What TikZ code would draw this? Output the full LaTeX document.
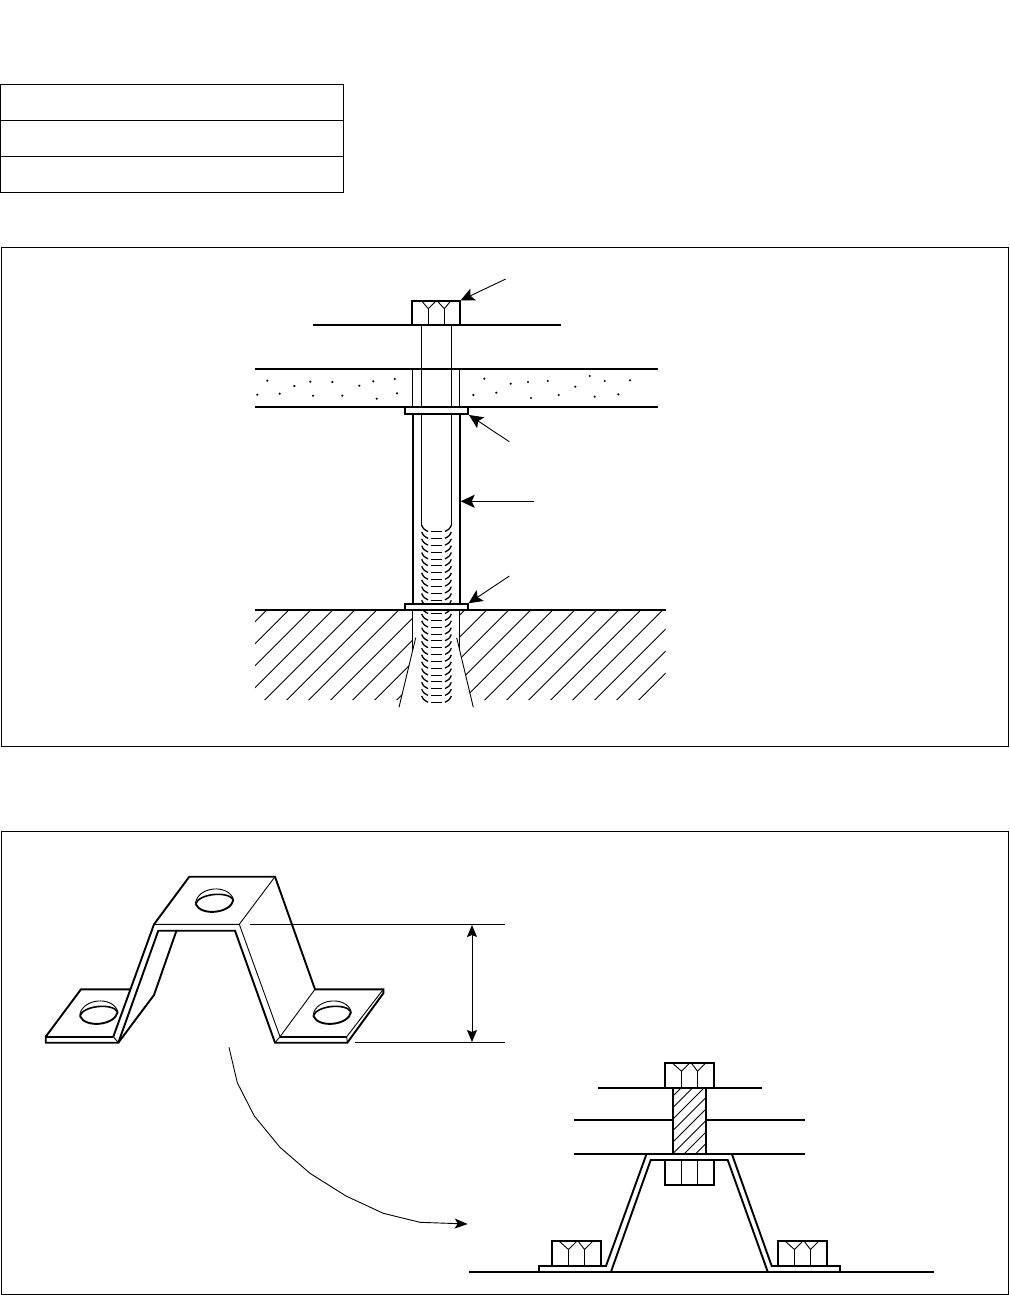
\documentclass[tikz,border=0pt]{standalone}
\usepackage{amsmath}
\usetikzlibrary{arrows.meta}
\tikzset{
	thinline/.style={line width=0.9pt},
	thickline/.style={line width=1.9pt,line join=miter},
	hatchline/.style={line width=0.9pt},
	threadline/.style={line width=1.3pt},
	threaddash/.style={line width=1pt},
	bigleader/.style={line width=0.9pt,-{Stealth[length=14pt,width=13pt,inset=3pt]}},
	smallleader/.style={line width=0.9pt,-{Stealth[length=13pt,width=10pt,inset=3pt]}},
	dimline/.style={line width=0.9pt,{Stealth[length=12pt,width=10pt,inset=2pt]}-{Stealth[length=12pt,width=10pt,inset=2pt]}},
	dotmark/.style={fill=black}
}
\begin{document}
\begin{tikzpicture}[x=1pt,y=-1pt]
		\useasboundingbox (0,0) rectangle (1009,1295);
		% empty table
		\draw[thinline] (0.6,84.4) rectangle (343,120.3);
		\draw[thinline] (0.6,120.3) rectangle (343,156.3);
		\draw[thinline] (0.6,156.3) rectangle (343,192.3);
		% frames
		\draw[thinline] (1,247.5) rectangle (1008,746);
		\draw[thinline] (1,831.5) rectangle (1008,1294);
		% upper picture: plate and panel
		\draw[thickline] (313.3,325) -- (560.7,325);
		\draw[thickline] (255,368.7) -- (657.7,368.7);
		\draw[thickline] (255,406.9) -- (657.7,406.9);
		\draw[thinline] (412.3,369) -- (412.3,407);
		\draw[thinline] (459.7,369) -- (459.7,407);
		\foreach \dotx/\doty in {267.3/380.7,294.3/386,310.3/381.7,332.3/382,359.3/385.7,373.3/381.3,394.7/379,
			257.3/394.7,279.7/393.7,313/395.7,342.3/395.7,376.7/398.7,397/393.3,
			484.3/378.7,510.7/383.7,528/382,547.7/381,575.3/386.7,589.7/376,604.7/381,630/380.3,
			473.3/395,496.3/392.7,531/398,558.7/395,594.7/396.7,618.3/394.3}
			\fill[dotmark] (\dotx,\doty) circle (1.2);
		% bolt head
		\draw[thickline] (412,325) -- (412,301) -- (460,301) -- (460,325);
		\draw[thinline] (428.3,325) -- (428.3,308.7);
		\draw[thinline] (444.3,325) -- (444.3,308.7);
		\draw[thinline] (421.7,301) -- (428.3,308.7) -- (436,301);
		\draw[thinline] (437.3,301) -- (444.3,308.7) -- (450.7,301);
		% shaft and thread
		\draw[thinline] (421.7,325) -- (421.7,525.7);
		\draw[thinline] (451.3,325) -- (451.3,525.7);
		\foreach \n in {0,...,25} {
			\draw[threadline] (421.7,525.2+6.83*\n) .. controls (423.5,529+6.83*\n) .. (428,531.5+6.83*\n);
			\draw[threadline] (451.3,525.2+6.83*\n) .. controls (449.5,529+6.83*\n) .. (445,531.5+6.83*\n);
			\draw[threaddash] (431,531.7+6.83*\n) -- (442.3,531.7+6.83*\n);
		}
		% spacer and washers
		\draw[thickline] (413,414) -- (413,604);
		\draw[thickline] (460,414) -- (460,604);
		\draw[thickline,fill=white] (405,407) rectangle (468,414);
		\draw[thickline,fill=white] (405,603.7) rectangle (468,609.7);
		% ground
		\draw[thickline] (255,609.7) -- (665.7,609.7);
		\begin{scope}
			\clip (255,610) -- (412.3,610) -- (412.3,651.6) -- (400.8,700) -- (255,700) -- cycle;
			\foreach \k in {0,...,21}
				\draw[hatchline] (876.7+22*\k-200,200) -- (876.7+22*\k-800,800);
		\end{scope}
		\begin{scope}
			\clip (459.7,610) -- (665.7,610) -- (665.7,700) -- (471.6,700) -- (459.7,650) -- cycle;
			\foreach \k in {0,...,21}
				\draw[hatchline] (876.7+22*\k-200,200) -- (876.7+22*\k-800,800);
		\end{scope}
		\draw[thinline] (412.3,610) -- (412.3,651.6);
		\draw[thinline] (459.7,610) -- (459.7,650);
		% leaders
		\coordinate (leadhead) at (505.7,279);
		\coordinate (headtip) at (460.5,300.5);
		\coordinate (leadwasher) at (509.3,441.7);
		\coordinate (washertip) at (469,415);
		\coordinate (leadspacer) at (534,501.3);
		\coordinate (spacertip) at (460.7,501.3);
		\coordinate (leadbase) at (509.3,576);
		\coordinate (basetip) at (468.5,603.3);
		\draw[bigleader] (leadhead) -- (headtip);
		\draw[bigleader] (leadwasher) -- (washertip);
		\draw[bigleader] (leadspacer) -- (spacertip);
		\draw[bigleader] (leadbase) -- (basetip);
		\coordinate (holeleft) at (415.7,637.7);
		\coordinate (holeleftend) at (399,707.3);
		\coordinate (holeright) at (456.7,637.7);
		\coordinate (holerightend) at (473.3,707.3);
		\draw[thinline] (holeleft) -- (holeleftend);
		\draw[thinline] (holeright) -- (holerightend);
		% lower picture: bracket
		\draw[thickline] (113.3,1036.7) -- (154,924.3) -- (189.3,876.7) -- (275,876.7) -- (315,989.3) -- (383.3,989.3) -- (383.3,993.3) -- (347.3,1042.7) -- (275,1042.7) -- (235,930.7) -- (158.3,930.7) -- (118.3,1042.7) -- (45.7,1042.7) -- (45.7,1036.7) -- (81,989.3) -- (130,989.3);
		\draw[thickline] (45.7,1036.7) -- (113.3,1036.7);
		\draw[thickline] (176.7,930) -- (154,995) -- (118.3,1042.7);
		\draw[thickline] (280,1036.7) -- (346.7,1036.7);
		\draw[thinline] (113.3,1036.7) -- (118.3,1042.7);
		\draw[thinline] (154,924.3) -- (239.3,924.3) -- (275,876.7);
		\draw[thinline] (239.3,924.3) -- (280,1036.7) -- (315,989.3);
		\draw[thinline] (280,1036.7) -- (275,1042.7);
		\draw[thinline] (346.7,1036.7) -- (383.3,989.3);
		\draw[thinline] (346.7,1036.7) -- (347.3,1042.7);
		% holes
		\foreach \holex/\holey in {214.5/902,98.8/1014,332.2/1014} {
			\draw[thickline,shift={(\holex,\holey)},rotate=6] (-19,0) .. controls (-15,13) and (15,13) .. (19,0);
			\draw[line width=1.6pt,shift={(\holex,\holey)},rotate=6] (-19,0) .. controls (-15,-10) and (15,-10) .. (19,0);
			\draw[thinline,shift={(\holex,\holey)},rotate=6] (-19,-1) .. controls (-15,-17) and (15,-17) .. (19,-1);
		}
		% height dimension
		\coordinate (dimtopa) at (250,924.5);
		\coordinate (dimtopb) at (505,924.5);
		\coordinate (dimbota) at (355,1042.5);
		\coordinate (dimbotb) at (505,1042.5);
		\coordinate (dimtop) at (472,925);
		\coordinate (dimbot) at (472,1042);
		\draw[thinline] (dimtopa) -- (dimtopb);
		\draw[thinline] (dimbota) -- (dimbotb);
		\draw[dimline] (dimtop) -- (dimbot);
		% curved leader
		\coordinate (curvestart) at (229,1047.3);
		\coordinate (curveend) at (467.7,1224);
		\draw[smallleader] (curvestart) -- (237.3,1082.7) -- (254.3,1116) -- (280,1147.3) -- (310,1173.3) -- (346,1196) -- (383.3,1213.3) -- (420,1222.3) -- (curveend);
		% lower picture: assembly
		\draw[thickline] (598.3,1087.7) -- (761.7,1087.7);
		\draw[thickline] (574,1119.7) -- (673,1119.7);
		\draw[thickline] (706,1119.7) -- (805,1119.7);
		\draw[thickline] (574,1153.7) -- (805,1153.7);
		\begin{scope}
			\clip (673,1087.7) rectangle (706,1153.7);
			\foreach \k in {0,...,9}
				\draw[thinline] (673+11.5*\k-70,1166) -- (673+11.5*\k+30,1066);
		\end{scope}
		\draw[thickline] (673,1087.7) -- (673,1153.7);
		\draw[thickline] (706,1087.7) -- (706,1153.7);
		% bracket section
		\draw[thickline] (469,1271.7) -- (933.5,1271.7);
		\draw[thickline] (539,1271.7) -- (539,1266) -- (606,1266) -- (646.7,1153.5);
		\draw[thickline] (731.7,1153.5) -- (771.7,1266) -- (840,1266) -- (840,1271.7);
		\draw[thickline] (611,1271.7) -- (650.7,1160) -- (727.7,1160) -- (767.7,1271.7);
		% lower nut
		\draw[thickline] (665,1160) -- (665,1185) -- (714,1185) -- (714,1160);
		\draw[thinline] (681.7,1160) -- (681.7,1185);
		\draw[thinline] (697.7,1160) -- (697.7,1185);
		% bolt heads
		\foreach \boltx/\bolty in {665/1087.7,552/1266,778/1266} {
			\draw[thickline] (\boltx,\bolty) -- (\boltx,\bolty-25) -- (\boltx+49,\bolty-25) -- (\boltx+49,\bolty);
			\draw[thinline] (\boltx+16.5,\bolty) -- (\boltx+16.5,\bolty-16.5);
			\draw[thinline] (\boltx+32.5,\bolty) -- (\boltx+32.5,\bolty-16.5);
			\draw[thinline] (\boltx+7,\bolty-25) -- (\boltx+16.5,\bolty-16.5) -- (\boltx+25,\bolty-25);
			\draw[thinline] (\boltx+26,\bolty-25) -- (\boltx+32.5,\bolty-16.5) -- (\boltx+41,\bolty-25);
		}
	\end{tikzpicture}
\end{document}
